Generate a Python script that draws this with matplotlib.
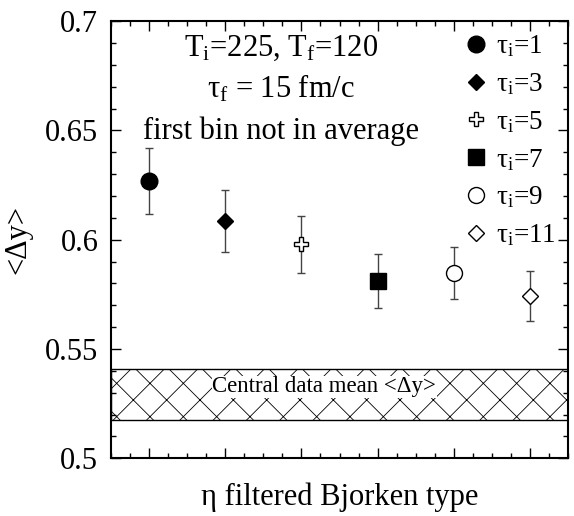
import matplotlib
matplotlib.use('Agg')
import matplotlib.pyplot as plt
from matplotlib.ticker import MultipleLocator, NullFormatter, FuncFormatter

plt.rcParams['font.family'] = ['Liberation Serif', 'DejaVu Serif']
plt.rcParams['mathtext.fontset'] = 'custom'
plt.rcParams['mathtext.rm'] = 'Liberation Serif'
plt.rcParams['mathtext.it'] = 'Liberation Serif:italic'
plt.rcParams['hatch.linewidth'] = 0.6

# data
tau_i = [1, 3, 5, 7, 9, 11]
dy_mean = [0.6268, 0.6085, 0.5978, 0.5811, 0.5848, 0.5741]
dy_err = [0.0151, 0.0142, 0.0131, 0.0123, 0.0118, 0.0115]
markers = ['o', 'D', 'P', 's', 'o', 'D']
filled = [True, True, False, True, False, False]
msizes = [12, 8.5, 10, 11, 11.5, 8.5]

band_low, band_high = 0.5177, 0.5410

fig = plt.figure(figsize=(5.74, 5.16), dpi=100)
ax = fig.add_axes([0.193, 0.112, 0.797, 0.847])

xpos = list(range(1, len(tau_i) + 1))

# central data band
ax.axhspan(band_low, band_high, facecolor='white', edgecolor='black',
           hatch='x', linewidth=1.0, zorder=1)
ax.text(3.3, 0.5327, 'Central data mean <Δy>', fontsize=16.5,
        ha='center', va='center', zorder=3,
        bbox=dict(facecolor='white', edgecolor='none', pad=0.3))

for x, y, e, m, f, ms, t in zip(xpos, dy_mean, dy_err, markers, filled, msizes, tau_i):
    ax.errorbar(x, y, yerr=e, fmt='none', ecolor='#444444', elinewidth=1.0,
                capsize=3, capthick=1.0, zorder=4)
    ax.plot(x, y, linestyle='none', marker=m, markersize=ms,
            markerfacecolor='black' if f else 'white', markeredgecolor='black',
            markeredgewidth=1.0, zorder=5,
            label='τ$_{\\mathrm{i}}$=%d' % t)

ax.set_xlim(0.5, 6.5)
ax.set_ylim(0.5, 0.7)
ax.xaxis.set_major_locator(MultipleLocator(1))
ax.xaxis.set_minor_locator(MultipleLocator(0.25))
ax.xaxis.set_major_formatter(NullFormatter())
ax.yaxis.set_major_locator(MultipleLocator(0.05))
ax.yaxis.set_minor_locator(MultipleLocator(0.01))
ax.yaxis.set_major_formatter(FuncFormatter(lambda v, p: ('%.2f' % v).rstrip('0').rstrip('.')))
ax.tick_params(axis='y', which='both', pad=9)
ax.tick_params(which='both', direction='in', top=True, right=True, labelsize=22)
ax.tick_params(which='major', length=7, width=1.0)
ax.tick_params(which='minor', length=3.5, width=1.0)
for s in ax.spines.values():
    s.set_linewidth(1.5)

ax.set_ylabel('<Δy>', fontsize=22, labelpad=9)
ax.set_xlabel('η filtered Bjorken type', fontsize=22, labelpad=14)

ax.text(0.372, 0.937, 'T$_{\\mathrm{i}}$=225, T$_{\\mathrm{f}}$=120', transform=ax.transAxes,
        fontsize=22, ha='center', va='center')
ax.text(0.372, 0.845, 'τ$_{\\mathrm{f}}$ = 15 fm/c', transform=ax.transAxes,
        fontsize=22, ha='center', va='center')
ax.text(0.372, 0.748, 'first bin not in average', transform=ax.transAxes,
        fontsize=22, ha='center', va='center')

ax.legend(loc='upper right', frameon=False, fontsize=19.5, handletextpad=0.25,
          labelspacing=0.44, borderaxespad=0.2, handlelength=1.0,
          borderpad=0.25)

fig.savefig('out.png', dpi=100)
